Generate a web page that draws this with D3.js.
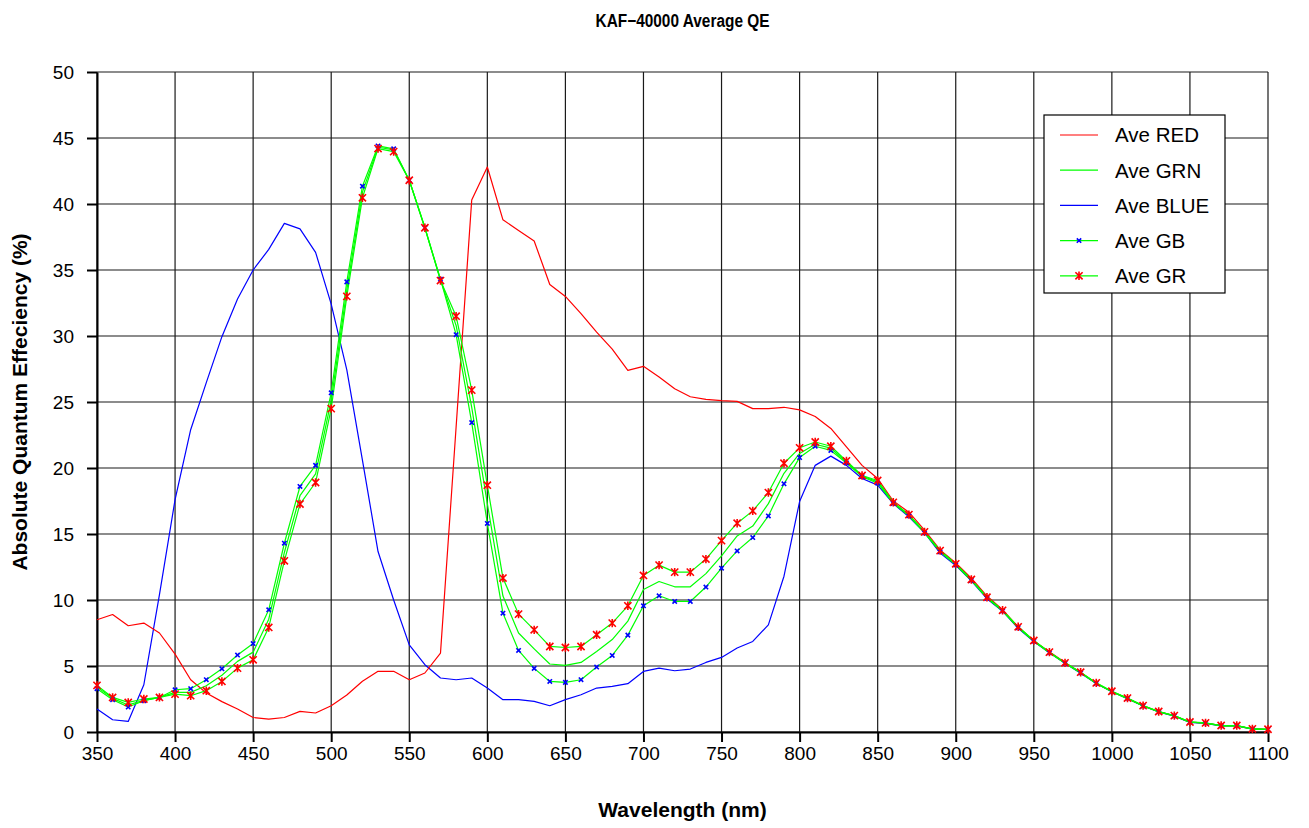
<!DOCTYPE html>
<html>
<head>
<meta charset="utf-8">
<script src="https://cdn.jsdelivr.net/npm/d3@7"></script>
<style>
  html, body { margin: 0; padding: 0; background: #fff; }
  svg text { font-family: "Liberation Sans", Arial, sans-serif; fill: #000; }
</style>
</head>
<body>
<div id="chart"></div>
<script>
// KAF-40000 average QE

const wavelengths = [350, 360, 370, 380, 390, 400, 410, 420, 430, 440, 450, 460, 470, 480, 490, 500,
    510, 520, 530, 540, 550, 560, 570, 580, 590, 600, 610, 620, 630, 640, 650, 660, 670, 680, 690, 700,
    710, 720, 730, 740, 750, 760, 770, 780, 790, 800, 810, 820, 830, 840, 850, 860, 870, 880, 890, 900,
    910, 920, 930, 940, 950, 960, 970, 980, 990, 1000, 1010, 1020, 1030, 1040, 1050, 1060, 1070, 1080, 1090, 1100];

const aveRed = [8.5, 8.9, 8.05, 8.25, 7.5, 5.9, 3.96, 2.95, 2.3, 1.74, 1.1, 0.98, 1.1, 1.56, 1.44, 1.99,
    2.8, 3.85, 4.6, 4.6, 3.96, 4.47, 5.98, 23.1, 40.3, 42.8, 38.8, 38.0, 37.2, 33.9, 33.0, 31.7, 30.3, 29.0, 27.4, 27.7,
    26.9, 26.0, 25.4, 25.2, 25.1, 25.05, 24.5, 24.5, 24.6, 24.4, 23.9, 23.0, 21.6, 20.2, 19.2, 17.5, 16.65, 15.3, 13.8, 12.8,
    11.65, 10.3, 9.26, 7.95, 6.9, 6.08, 5.27, 4.5, 3.7, 3.07, 2.55, 1.99, 1.54, 1.23, 0.75, 0.68, 0.48, 0.48, 0.23, 0.2];

const aveGrn = [3.4, 2.55, 2.05, 2.4, 2.62, 3.0, 3.0, 3.5, 4.3, 5.35, 6.05, 8.55, 13.6, 17.9, 19.55, 25.1,
    33.5, 40.9, 44.3, 44.1, 41.8, 38.2, 34.25, 30.8, 24.6, 17.3, 10.3, 7.5, 6.3, 5.15, 5.05, 5.27, 6.1, 7.0, 8.4, 10.8,
    11.4, 11.0, 11.0, 12.0, 13.35, 14.85, 15.6, 17.3, 19.6, 21.1, 21.8, 21.5, 20.45, 19.4, 18.95, 17.38, 16.45, 15.14, 13.72, 12.72,
    11.53, 10.19, 9.2, 7.95, 6.91, 6.03, 5.22, 4.51, 3.7, 3.07, 2.55, 1.99, 1.54, 1.23, 0.75, 0.68, 0.48, 0.48, 0.23, 0.2];

const aveBlue = [1.74, 0.93, 0.8, 3.58, 10.4, 17.6, 22.9, 26.47, 29.95, 32.8, 35.0, 36.56, 38.53, 38.12, 36.34, 32.42,
    27.43, 20.6, 13.67, 10.0, 6.6, 5.1, 4.09, 3.96, 4.09, 3.33, 2.45, 2.45, 2.32, 1.99, 2.45, 2.82, 3.33, 3.45, 3.66, 4.59,
    4.84, 4.64, 4.77, 5.27, 5.65, 6.36, 6.86, 8.12, 11.8, 17.46, 20.2, 20.9, 20.2, 19.2, 18.7, 17.3, 16.3, 15.1, 13.55, 12.62,
    11.45, 10.1, 9.15, 7.85, 6.85, 6.0, 5.2, 4.45, 3.68, 3.05, 2.52, 1.97, 1.52, 1.2, 0.73, 0.66, 0.47, 0.46, 0.22, 0.19];

const aveGB = [3.28, 2.45, 1.89, 2.37, 2.62, 3.2, 3.28, 3.96, 4.79, 5.83, 6.7, 9.26, 14.3, 18.6, 20.2, 25.7,
    34.1, 41.35, 44.4, 44.18, 41.8, 38.2, 34.3, 30.1, 23.44, 15.8, 9.0, 6.18, 4.82, 3.83, 3.76, 3.96, 4.92, 5.8, 7.34, 9.56,
    10.32, 9.89, 9.89, 10.98, 12.41, 13.72, 14.73, 16.37, 18.8, 20.79, 21.65, 21.33, 20.38, 19.35, 18.85, 17.32, 16.38, 15.08, 13.65, 12.66,
    11.48, 10.14, 9.16, 7.9, 6.87, 6.0, 5.2, 4.48, 3.68, 3.05, 2.53, 1.97, 1.53, 1.22, 0.74, 0.67, 0.47, 0.47, 0.22, 0.19];

const aveGR = [3.53, 2.62, 2.24, 2.5, 2.62, 2.87, 2.75, 3.13, 3.83, 4.84, 5.47, 7.92, 12.97, 17.27, 18.9, 24.5,
    33.0, 40.47, 44.2, 43.97, 41.8, 38.2, 34.2, 31.5, 25.9, 18.7, 11.66, 8.93, 7.74, 6.48, 6.4, 6.48, 7.37, 8.25, 9.56, 11.86,
    12.64, 12.11, 12.11, 13.1, 14.5, 15.82, 16.75, 18.14, 20.36, 21.53, 21.97, 21.65, 20.54, 19.43, 19.05, 17.4, 16.47, 15.16, 13.74, 12.74,
    11.55, 10.21, 9.22, 7.97, 6.93, 6.05, 5.24, 4.53, 3.72, 3.09, 2.57, 2.0, 1.55, 1.24, 0.76, 0.69, 0.49, 0.49, 0.24, 0.21];

const xTicks = [350, 400, 450, 500, 550, 600, 650, 700, 750, 800, 850, 900, 950, 1000, 1050, 1100];
const yTicks = [0, 5, 10, 15, 20, 25, 30, 35, 40, 45, 50];

const seriesNames = ['Ave RED', 'Ave GRN', 'Ave BLUE', 'Ave GB', 'Ave GR'];
const seriesValues = [aveRed, aveGrn, aveBlue, aveGB, aveGR];
const seriesColors = ['#ff0000', '#00ff00', '#0000ff', '#00ff00', '#00ff00'];
const seriesMarkers = [null, null, null, 'x', 'star'];

// Layout
const width = 1309, height = 828;
const margin = { left: 97, right: 41, top: 72, bottom: 96 };
const plotW = width - margin.left - margin.right;
const plotH = height - margin.top - margin.bottom;

const x = d3.scaleLinear().domain([350, 1100]).range([margin.left, margin.left + plotW]);
const y = d3.scaleLinear().domain([0, 50]).range([margin.top + plotH, margin.top]);

const svg = d3.select('#chart')
    .append('svg')
    .attr('width', width)
    .attr('height', height)
    .attr('viewBox', `0 0 ${width} ${height}`);

svg.append('rect').attr('width', width).attr('height', height).attr('fill', '#fff');

// Gridlines
svg.append('g')
    .selectAll('line')
    .data(xTicks)
    .join('line')
    .attr('x1', d => x(d)).attr('x2', d => x(d))
    .attr('y1', margin.top).attr('y2', margin.top + plotH)
    .attr('stroke', '#1a1a1a').attr('stroke-width', 1.2);

svg.append('g')
    .selectAll('line')
    .data(yTicks)
    .join('line')
    .attr('x1', margin.left).attr('x2', margin.left + plotW)
    .attr('y1', d => y(d)).attr('y2', d => y(d))
    .attr('stroke', '#1a1a1a').attr('stroke-width', 1.2);

// Axes
const xAxis = svg.append('g')
    .attr('transform', `translate(0,${margin.top + plotH})`)
    .call(d3.axisBottom(x).tickValues(xTicks).tickFormat(d3.format('d'))
        .tickSize(10).tickPadding(5).tickSizeOuter(0));
const yAxis = svg.append('g')
    .attr('transform', `translate(${margin.left},0)`)
    .call(d3.axisLeft(y).tickValues(yTicks).tickFormat(d3.format('d'))
        .tickSize(10).tickPadding(13).tickSizeOuter(0));

[xAxis, yAxis].forEach(a => {
    a.attr('font-family', null).attr('font-size', null);
    a.select('.domain').attr('stroke', '#000').attr('stroke-width', 2);
    a.selectAll('.tick line').attr('stroke', '#000').attr('stroke-width', 2);
    a.selectAll('.tick text')
        .attr('font-size', 19)
        .attr('fill', '#000');
});

// Series lines
const line = d3.line()
    .x((d, i) => x(wavelengths[i]))
    .y(d => y(d));

const drawOrder = [2, 0, 1, 3, 4];
drawOrder.forEach(k => {
    svg.append('path')
        .datum(seriesValues[k])
        .attr('fill', 'none')
        .attr('stroke', seriesColors[k])
        .attr('stroke-width', 1.2)
        .attr('stroke-linejoin', 'round')
        .attr('d', line);
});

function drawMarker(g, cx, cy, type) {
    if (type === 'x') {
        const s = 2.2;
        g.append('path')
            .attr('d', `M${cx - s},${cy - s}L${cx + s},${cy + s}M${cx - s},${cy + s}L${cx + s},${cy - s}`)
            .attr('stroke', '#0000ff').attr('stroke-width', 1.6).attr('fill', 'none');
    } else if (type === 'star') {
        const s = 3.6;
        g.append('path')
            .attr('d', `M${cx - s},${cy - s}L${cx + s},${cy + s}M${cx - s},${cy + s}L${cx + s},${cy - s}M${cx},${cy - s - 0.6}L${cx},${cy + s + 0.6}`)
            .attr('stroke', '#ff0000').attr('stroke-width', 1.6).attr('fill', 'none');
    }
}

[3, 4].forEach(k => {
    const g = svg.append('g');
    seriesValues[k].forEach((v, i) => drawMarker(g, x(wavelengths[i]), y(v), seriesMarkers[k]));
});

// Legend
const legend = svg.append('g').attr('transform', 'translate(1044,115)');
legend.append('rect')
    .attr('width', 181).attr('height', 178)
    .attr('fill', '#fff').attr('stroke', '#000').attr('stroke-width', 1.2);

seriesNames.forEach((name, i) => {
    const ly = 20 + i * 35.2;
    legend.append('line')
        .attr('x1', 16).attr('x2', 54)
        .attr('y1', ly).attr('y2', ly)
        .attr('stroke', seriesColors[i]).attr('stroke-width', 1.2);
    if (seriesMarkers[i]) drawMarker(legend, 35, ly, seriesMarkers[i]);
    legend.append('text')
        .attr('x', 71).attr('y', ly)
        .attr('dy', '0.36em')
        .attr('font-size', 20.5)
        .text(name);
});

// Titles
svg.append('text')
    .attr('x', margin.left + plotW / 2).attr('y', 27)
    .attr('text-anchor', 'middle')
    .attr('font-size', 18).attr('font-weight', 'bold')
    .attr('textLength', 174).attr('lengthAdjust', 'spacingAndGlyphs')
    .text('KAF\u221240000 Average QE');

svg.append('text')
    .attr('x', margin.left + plotW / 2).attr('y', 817)
    .attr('text-anchor', 'middle')
    .attr('font-size', 21).attr('font-weight', 'bold')
    .text('Wavelength (nm)');

svg.append('text')
    .attr('transform', `translate(27,${margin.top + plotH / 2}) rotate(-90)`)
    .attr('text-anchor', 'middle')
    .attr('font-size', 21).attr('font-weight', 'bold')
    .text('Absolute Quantum Effeciency (%)');
</script>
</body>
</html>
